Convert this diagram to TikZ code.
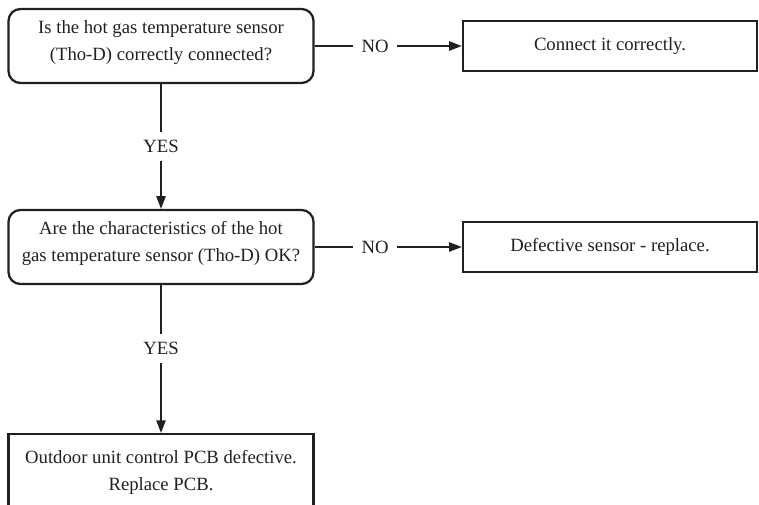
\documentclass[tikz,border=0pt]{standalone}
\usepackage{fontspec}
\setmainfont{Liberation Serif}
\usetikzlibrary{arrows.meta}
\definecolor{ink}{HTML}{231F20}

\begin{document}
\begin{tikzpicture}
    [x=0.025cm, y=-0.025cm, line width=1.3pt, color=ink,
     every node/.style={font=\fontsize{13.3}{19.2}\selectfont, align=center},
     question/.style={rectangle, rounded corners=0.3cm, draw, line width=1.6pt, minimum width=7.625cm, minimum height=1.85cm},
     answer/.style={rectangle, draw, line width=1.6pt, minimum width=7.35cm, minimum height=1.25cm},
     choice/.style={fill=white, inner sep=6pt},
     >={Triangle[length=9pt,width=6.5pt]}]
    \useasboundingbox (0,0) rectangle (759,505);
    % checks on the left, actions on the right
    \node[question, text depth=8pt] (q1) at (161,46){Is the hot gas temperature sensor\\(Tho-D) correctly connected?};
    \node[answer] (fix1) at (610,46){Connect it correctly.};
    \node[question, text depth=8pt] (q2) at (161,247){Are the characteristics of the hot\\gas temperature sensor (Tho-D) OK?};
    \node[answer] (fix2) at (610,247){Defective sensor - replace.};
    \node[answer, anchor=north, minimum width=7.625cm, minimum height=1.9cm] (pcb) at (161,433){Outdoor unit control PCB defective.\\Replace PCB.};
    \draw[->] (q1) to node[choice, pos=0.41]{NO} (fix1);
    \draw[->] (q1) to node[choice]{YES} (q2);
    \draw[->] (q2) to node[choice, pos=0.41]{NO} (fix2);
    \draw[->] (q2) to node[choice, pos=0.43]{YES} (pcb);
\end{tikzpicture}
\end{document}
